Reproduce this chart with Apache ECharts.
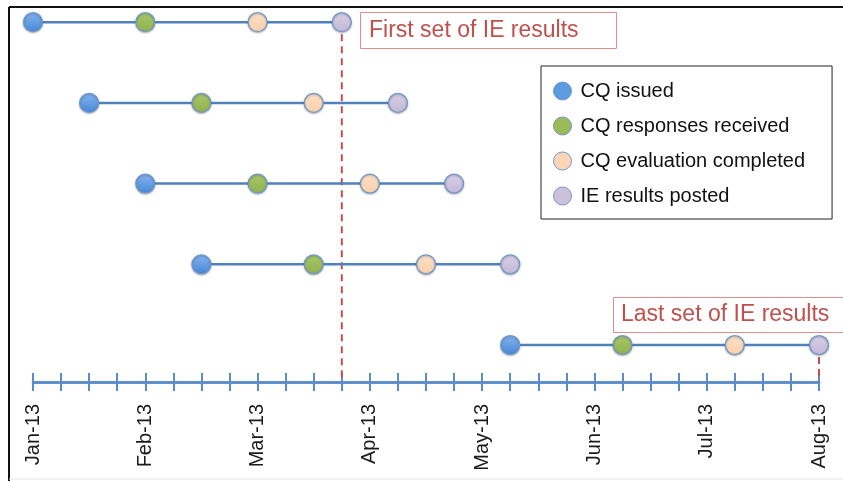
<!DOCTYPE html>
<html>
<head>
<meta charset="utf-8">
<script src="https://cdn.jsdelivr.net/npm/echarts@6/dist/echarts.min.js"></script>
<style>
html,body{margin:0;padding:0;background:#fff;}
#chart{width:843px;height:481px;}
</style>
</head>
<body>
<div id="chart"></div>
<script>
// x values are in quarter-month steps from Jan-13 (0) to Aug-13 (28)
const monthLabels = ['Jan-13','Feb-13','Mar-13','Apr-13','May-13','Jun-13','Jul-13','Aug-13'];
const rows = [0, 1, 2, 3, 4];
const cqIssued = [0, 2, 4, 6, 17];
const cqResponses = [4, 6, 8, 10, 21];
const cqEvaluation = [8, 10, 12, 14, 25];
const ieResults = [11, 13, 15, 17, 28];
const seriesNames = ['CQ issued', 'CQ responses received', 'CQ evaluation completed', 'IE results posted'];
const markerLines = [11, 28];       // first / last set of IE results
const markerRows = [0, 4];
const annotationTexts = ['First set of IE results', 'Last set of IE results'];

const Y_MAX = 4.458;
const FONT = 'Liberation Sans, Arial, Helvetica, sans-serif';
const blueLine = '#4f81bd';
const fills = [
  new echarts.graphic.LinearGradient(0,0,0,1,[{offset:0,color:'#86b6ef'},{offset:1,color:'#4686d6'}]),
  new echarts.graphic.LinearGradient(0,0,0,1,[{offset:0,color:'#a9c86a'},{offset:1,color:'#8fb04e'}]),
  new echarts.graphic.LinearGradient(0,0,0,1,[{offset:0,color:'#fde0c6'},{offset:1,color:'#f9cfab'}]),
  new echarts.graphic.LinearGradient(0,0,0,1,[{offset:0,color:'#d9d0e6'},{offset:1,color:'#c3b7d6'}])
];
const legendColors = ['#5b9be0','#9bbb59','#fcd5b5','#ccc1da'];
const pointSets = [cqIssued, cqResponses, cqEvaluation, ieResults];

const series = [];
// connector lines per row
rows.forEach(r => {
  series.push({
    type: 'line', xAxisIndex: 0, yAxisIndex: 0, silent: true,
    data: [[cqIssued[r], r], [ieResults[r], r]],
    symbol: 'none', lineStyle: {color: blueLine, width: 2.5}, z: 2, clip: false
  });
});
// dashed red marker lines
markerLines.forEach((x, i) => {
  series.push({
    type: 'line', xAxisIndex: 0, yAxisIndex: 0, silent: true,
    data: [[x, markerRows[i]], [x, Y_MAX]],
    symbol: 'none', lineStyle: {color: '#c0504d', width: 2, type: [7, 5]}, z: 1, clip: false
  });
});
// milestone points
pointSets.forEach((arr, i) => {
  series.push({
    name: seriesNames[i], type: 'scatter', xAxisIndex: 0, yAxisIndex: 0,
    data: rows.map(r => [arr[r], r]),
    symbol: 'circle', symbolSize: 19, z: 5, clip: false,
    itemStyle: {color: fills[i], opacity: 1, borderColor: '#6f98cc', borderWidth: 1.3,
      shadowColor: 'rgba(0,0,0,0.25)', shadowBlur: 2, shadowOffsetY: 1}
  });
});

const chart = echarts.init(document.getElementById('chart'), null, {renderer: 'canvas'});
chart.setOption({
  animation: false,
  backgroundColor: '#fff',
  textStyle: {fontFamily: FONT},
  grid: {left: 33, right: 24, top: 2, bottom: 99},
  xAxis: [
    {
      type: 'value', min: 0, max: 28, interval: 1, position: 'bottom',
      axisLine: {show: true, onZero: false, lineStyle: {color: '#5a8ccb', width: 2.5}},
      axisTick: {show: true, inside: false, length: 9, lineStyle: {color: '#5a8ccb', width: 2}},
      splitLine: {show: false},
      axisLabel: {
        show: true, rotate: 90, margin: 22, fontSize: 20, color: '#1a1a1a',
        fontFamily: FONT,
        formatter: v => (v % 4 === 0 ? monthLabels[v / 4] : '')
      }
    },
    {
      type: 'value', min: 0, max: 28, interval: 1, position: 'bottom',
      axisLine: {show: true, onZero: false, lineStyle: {color: '#5a8ccb', width: 2.5}},
      axisTick: {show: true, inside: true, length: 9, lineStyle: {color: '#5a8ccb', width: 2}},
      splitLine: {show: false},
      axisLabel: {show: false}
    }
  ],
  yAxis: {type: 'value', min: -0.25, max: Y_MAX, inverse: true, show: false},
  legend: {
    data: seriesNames.map((n, i) => ({name: n, itemStyle: {color: legendColors[i], opacity: 1, borderColor: '#6f98cc', borderWidth: 1}})),
    orient: 'vertical', left: 541, top: 66,
    icon: 'circle', itemWidth: 18, itemHeight: 18, itemGap: 15,
    padding: [15, 27, 13, 12],
    borderColor: '#222', borderWidth: 1, backgroundColor: '#fff',
    textStyle: {fontSize: 20, color: '#111', padding: [0, 0, 0, 4], fontFamily: FONT},
    selectedMode: false
  },
  graphic: [
    {type: 'line', shape: {x1: 9, y1: 7, x2: 843, y2: 7}, style: {stroke: '#111', lineWidth: 2}, z: 100},
    {type: 'line', shape: {x1: 9, y1: 7, x2: 9, y2: 481}, style: {stroke: '#111', lineWidth: 2}, z: 100},
    {type: 'line', shape: {x1: 9, y1: 479, x2: 843, y2: 479}, style: {stroke: '#e2e2e2', lineWidth: 1}, z: 100},
    {type: 'rect', shape: {x: 360.5, y: 12.5, width: 256, height: 36}, style: {fill: '#fff', stroke: '#dd8f8d', lineWidth: 1}, z: 50},
    {type: 'text', x: 369, y: 31, style: {text: annotationTexts[0], fill: '#c0504d', fontSize: 23, fontFamily: FONT, textVerticalAlign: 'middle'}, z: 51},
    {type: 'rect', shape: {x: 613.5, y: 297.5, width: 240, height: 35}, style: {fill: '#fff', stroke: '#dd8f8d', lineWidth: 1}, z: 50},
    {type: 'text', x: 621, y: 315, style: {text: annotationTexts[1], fill: '#c0504d', fontSize: 23, fontFamily: FONT, textVerticalAlign: 'middle'}, z: 51}
  ],
  series: series
});
</script>
</body>
</html>
